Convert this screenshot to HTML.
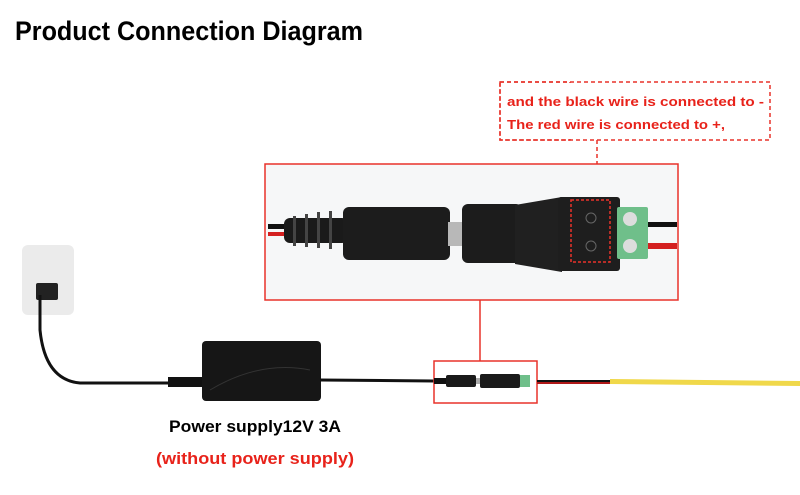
<!DOCTYPE html>
<html><head><meta charset="utf-8"><style>
html,body{margin:0;padding:0;background:#fff;width:800px;height:495px;overflow:hidden}
svg{display:block}
text{font-family:"Liberation Sans",sans-serif;font-weight:bold}
</style></head><body>
<svg width="800" height="495" viewBox="0 0 800 495" xmlns="http://www.w3.org/2000/svg">
<rect width="800" height="495" fill="#fff"/>
<text x="15" y="40" font-size="27" fill="#000" textLength="348" lengthAdjust="spacingAndGlyphs">Product Connection Diagram</text>

<!-- annotation dashed box -->
<rect x="500" y="82" width="70" height="58" fill="none" stroke="#e8322a" stroke-width="1.5" stroke-dasharray="4,3"/>
<rect x="500" y="82" width="270" height="58" fill="none" stroke="#e8322a" stroke-width="1.5" stroke-dasharray="4,3"/>
<rect x="501" y="83" width="268" height="56" fill="#fff"/>
<text x="507" y="106" font-size="13" fill="#e8221a" textLength="257" lengthAdjust="spacingAndGlyphs">and the black wire is connected to -</text>
<text x="507" y="129" font-size="13" fill="#e8221a" textLength="218" lengthAdjust="spacingAndGlyphs">The red wire is connected to +,</text>
<line x1="597" y1="140" x2="597" y2="200" stroke="#e8322a" stroke-width="1.5" stroke-dasharray="4,3"/>

<!-- big detail box -->
<rect x="265" y="164" width="413" height="136" fill="#f6f7f8" stroke="#e8322a" stroke-width="1.5"/>
<rect x="268" y="224" width="30" height="5" fill="#111"/>
<rect x="268" y="232" width="30" height="4" fill="#d42020"/>
<rect x="284" y="218" width="64" height="25" rx="6" fill="#1a1a1a"/>
<g fill="#444"><rect x="293" y="216" width="3" height="30"/><rect x="305" y="214" width="3" height="33"/><rect x="317" y="212" width="3" height="36"/><rect x="329" y="211" width="3" height="38"/></g>
<rect x="343" y="207" width="107" height="53" rx="6" fill="#1c1c1c"/>
<rect x="448" y="222" width="15" height="24" fill="#b8b8b8"/>
<rect x="462" y="204" width="60" height="59" rx="6" fill="#1c1c1c"/>
<polygon points="515,205 562,197 562,272 515,264" fill="#202020"/>
<rect x="558" y="197" width="62" height="74" rx="3" fill="#1e1e1e"/>
<rect x="571" y="200" width="39" height="62" fill="none" stroke="#e8322a" stroke-width="1.5" stroke-dasharray="3,2"/>
<circle cx="591" cy="218" r="5" fill="none" stroke="#666"/><circle cx="591" cy="246" r="5" fill="none" stroke="#666"/>
<rect x="617" y="207" width="31" height="52" rx="2" fill="#6fbf8a"/>
<circle cx="630" cy="219" r="7" fill="#ddd"/><circle cx="630" cy="246" r="7" fill="#ddd"/>
<rect x="648" y="222" width="29" height="5" fill="#111"/>
<rect x="648" y="243" width="29" height="6" fill="#d42020"/>
<line x1="480" y1="300" x2="480" y2="361" stroke="#e8322a" stroke-width="1.5"/>

<!-- outlet -->
<rect x="22" y="245" width="52" height="70" rx="6" fill="#ebebeb"/>
<rect x="36" y="283" width="22" height="17" rx="2" fill="#222"/>
<path d="M40 295 L40 330 Q45 380 80 383 L170 383" stroke="#111" stroke-width="3" fill="none"/>
<!-- power supply -->
<rect x="168" y="377" width="40" height="10" fill="#111"/>
<rect x="202" y="341" width="119" height="60" rx="4" fill="#161616"/>
<path d="M210 390 Q260 360 310 370" stroke="#333" fill="none"/>
<line x1="320" y1="380" x2="434" y2="381" stroke="#111" stroke-width="3"/>
<!-- small box -->
<rect x="434" y="361" width="103" height="42" fill="#fff" stroke="#e8322a" stroke-width="1.5"/>
<rect x="434" y="378" width="15" height="6" fill="#111"/>
<rect x="446" y="375" width="30" height="12" rx="2" fill="#1a1a1a"/>
<rect x="476" y="378" width="4" height="6" fill="#aaa"/>
<rect x="480" y="374" width="40" height="14" rx="2" fill="#1a1a1a"/>
<rect x="520" y="375" width="10" height="12" fill="#6fbf8a"/>
<rect x="537" y="380" width="73" height="2" fill="#111"/>
<rect x="537" y="382" width="73" height="2" fill="#b01818"/>
<polygon points="610,379 800,381 800,386 610,384" fill="#f0d84a"/>

<text x="255" y="432" font-size="17" fill="#000" text-anchor="middle" textLength="172" lengthAdjust="spacingAndGlyphs">Power supply12V 3A</text>
<text x="255" y="464" font-size="17" fill="#e8221a" text-anchor="middle" textLength="198" lengthAdjust="spacingAndGlyphs">(without power supply)</text>
</svg>
</body></html>
